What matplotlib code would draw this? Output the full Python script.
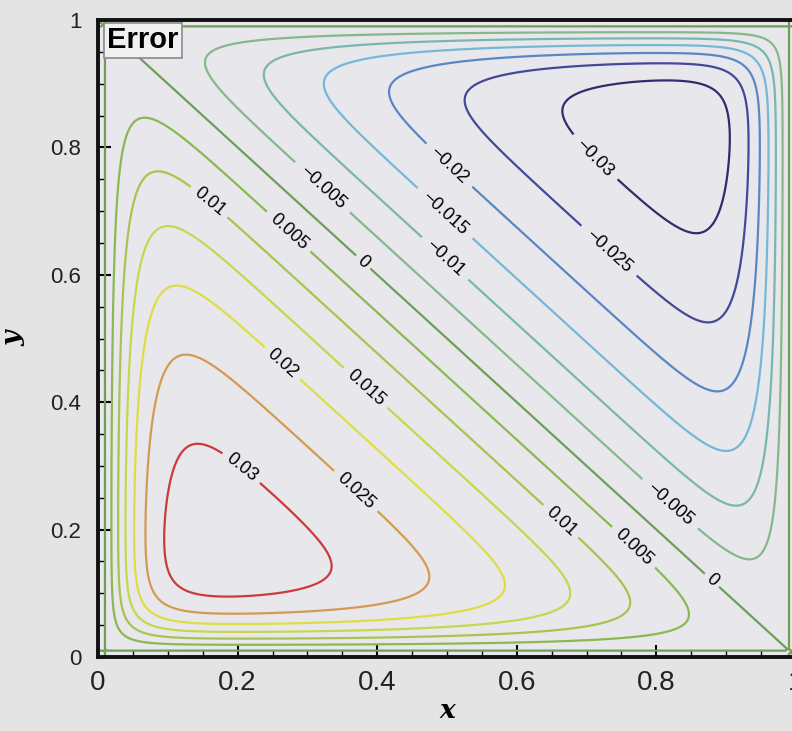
import numpy as np
import matplotlib.pyplot as plt

# contour levels of the error field and the colour Tecplot gave each one
levels = [-0.03, -0.025, -0.02, -0.015, -0.01, -0.005, 0.0,
          0.005, 0.01, 0.015, 0.02, 0.025, 0.03]
level_colors = ['#2e2d6e', '#45479a', '#5a86c4', '#74b8d6', '#7ab6b0', '#86b88c', '#6e9e58',
                '#8ab852', '#a6c44e', '#c4d84e', '#dede44', '#d49a52', '#cc3a3c']
level_text = ['\u22120.03', '\u22120.025', '\u22120.02', '\u22120.015', '\u22120.01', '\u22120.005', '0',
              '0.005', '0.01', '0.015', '0.02', '0.025', '0.03']

# shape of the error field
# (zero on the diagonal x+y=1 and ~0.01 inside each wall, peaks ~ +/-0.034)
slope_diag = 0.088     # growth of error away from the zero diagonal
curv_diag = 0.055      # flattening towards the two peaks
wall_width = 0.064     # thickness of the wall layer
wall_offset = 0.01     # zero line distance from the walls

# where the contour labels sit (one per line as in the original)
label_spots = [(0.218, 0.314), (0.375, 0.267), (0.268, 0.466), (0.383, 0.422),
               (0.165, 0.722), (0.669, 0.22), (0.275, 0.67), (0.774, 0.18),
               (0.38, 0.62), (0.88, 0.121), (0.318, 0.733), (0.815, 0.235),
               (0.505, 0.635), (0.50, 0.70), (0.494, 0.761), (0.724, 0.628),
               (0.69, 0.76)]

xticks = [0, 0.2, 0.4, 0.6, 0.8, 1]
xtick_text = ['0', '0.2', '0.4', '0.6', '0.8', '1']

n = 401
xs = np.linspace(0, 1, n)
X, Y = np.meshgrid(xs, xs)


def wall(u):
    return np.tanh((u - wall_offset) / wall_width)


S = 1 - X - Y
Z = (slope_diag * S - curv_diag * S * np.abs(S)) * wall(X) * wall(Y) * wall(1 - X) * wall(1 - Y)

fig = plt.figure(figsize=(7.92, 7.31), dpi=100, facecolor='#e4e4e4')
ax = fig.add_axes([98 / 792, 74 / 731, 698 / 792, 637 / 731])
ax.set_facecolor('#e8e8ec')

cs = ax.contour(X, Y, Z, levels=levels, colors=level_colors, linewidths=1.6)
fmt = dict(zip(cs.levels, level_text))
lbls = ax.clabel(cs, fmt=fmt, manual=label_spots, inline=True, inline_spacing=4, fontsize=13)
for t in lbls:
    t.set_color('black')
    t.set_family('Liberation Sans')

ax.set_xlim(0, 1)
ax.set_ylim(0, 1)
ax.set_xticks(xticks)
ax.set_xticklabels(xtick_text, family=['Liberation Sans Narrow', 'Liberation Sans'], fontsize=20)
ax.set_yticks(xticks)
ax.set_yticklabels(xtick_text, family='Liberation Sans', fontsize=16)
ax.set_xticks(np.arange(0, 1.001, 0.05), minor=True)
ax.set_yticks(np.arange(0, 1.001, 0.05), minor=True)
ax.tick_params(which='major', direction='in', length=9, width=1.5, colors='black')
ax.tick_params(which='minor', direction='in', length=5, width=1.0)
ax.tick_params(axis='x', pad=9, labelcolor='#222222')
ax.tick_params(axis='y', pad=12, labelcolor='#222222')
for side in ['left', 'bottom', 'top', 'right']:
    ax.spines[side].set_linewidth(2.8)
    ax.spines[side].set_color('#111111')

ax.set_xlabel('x', family='DejaVu Serif', style='italic', fontweight='bold', fontsize=19, labelpad=2)
ax.set_ylabel('y', family='DejaVu Serif', style='italic', fontweight='bold', fontsize=19, labelpad=18)

ax.text(0.013, 0.99, 'Error', transform=ax.transAxes, ha='left', va='top',
        fontsize=21, fontweight='bold', family='Liberation Sans',
        bbox=dict(boxstyle='square,pad=0.12', fc='#f0f0f0', ec='#8a8a8a', lw=1.2), zorder=5)

fig.savefig('out.png', dpi=100, facecolor=fig.get_facecolor())
